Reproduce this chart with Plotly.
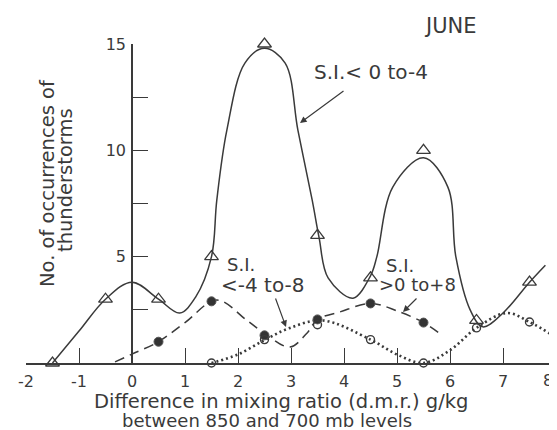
import plotly.graph_objects as go

# ---------------- data ----------------
# S.I. < 0 to -4 (solid line, open triangles)
tri_x = [-1.5, -0.5, 0.5, 1.5, 2.5, 3.5, 4.5, 5.5, 6.5, 7.5]
tri_y = [0.0, 3.0, 3.0, 5.0, 15.0, 6.0, 4.0, 10.0, 2.0, 3.8]
solid_x = [-1.5, -1.0, -0.5, 0.0, 0.5, 0.9, 1.2, 1.5, 1.6, 1.79, 2.13, 2.5, 2.89, 3.13,
           3.4, 3.53, 3.7, 4.17, 4.5, 4.62, 4.92, 5.5, 5.96, 6.11, 6.38, 6.62, 7.0, 7.5, 7.8]
solid_y = [0.0, 1.5, 3.0, 3.8, 3.0, 2.35, 3.1, 5.0, 7.66, 10.95, 14.1, 14.8, 14.1, 10.95,
           7.66, 5.9, 4.0, 3.05, 4.1, 5.0, 8.27, 9.65, 8.27, 5.0, 2.5, 1.7, 2.35, 3.8, 4.6]

# S.I. < -4 to -8 (dashed line, filled circles)
fil_x = [0.5, 1.5, 2.5, 3.5, 4.5, 5.5]
fil_y = [1.0, 2.9, 1.3, 2.05, 2.8, 1.9]
dash_x = [-0.32, 0.0, 0.5, 1.0, 1.6, 2.17, 2.55, 2.98, 3.3, 3.5, 3.92, 4.5, 5.0, 5.5, 5.8]
dash_y = [0.05, 0.42, 1.0, 1.9, 2.96, 2.0, 1.3, 0.75, 1.4, 2.05, 2.4, 2.8, 2.45, 1.9, 1.4]

# S.I. > 0 to +8 (dotted line, open circles)
opn_x = [1.5, 2.5, 3.5, 4.5, 5.5, 6.5, 7.5]
opn_y = [0.0, 1.1, 1.8, 1.1, 0.0, 1.65, 1.93]
dot_x = [1.5, 2.0, 2.5, 2.98, 3.6, 4.5, 5.0, 5.5, 6.0, 6.5, 7.07, 7.5, 8.0]
dot_y = [0.0, 0.4, 1.08, 1.65, 2.0, 1.1, 0.4, 0.0, 0.6, 1.65, 2.35, 1.93, 1.2]

x_ticks = [-2, -1, 0, 1, 2, 3, 4, 5, 6, 7, 8]
x_tick_text = ["-2", "-1", "0", "1", "2", "3", "4", "5", "6", "7", ""]
y_ticks = [2.5, 5, 7.5, 10, 12.5, 15]
y_tick_text = ["", "5", "", "10", "", "15"]

INK = "#3a3a3a"
FONT = "DejaVu Sans"

# the page puts the figure 8px in from the top-left corner of the window
OFF = 8
W, H = 557, 430
ML, MT = 26 - OFF, 44 - OFF
MR = W - (556 - OFF)
MB = H - (363 - OFF)
XR = (-2, 8)
YR = (0, 15)
PW = W - ML - MR
PH = H - MT - MB


def paper(xp, yp):
    """window pixel position -> paper coordinates (for text placement)"""
    return (xp - OFF - ML) / PW, (H - MB - (yp - OFF)) / PH


fig = go.Figure()

fig.add_trace(go.Scatter(x=solid_x, y=solid_y, mode="lines",
                         line=dict(color=INK, width=1.5, shape="spline", smoothing=1.0),
                         cliponaxis=False, hoverinfo="skip", showlegend=False))
fig.add_trace(go.Scatter(x=dash_x, y=dash_y, mode="lines",
                         line=dict(color=INK, width=1.5, shape="spline", smoothing=1.0,
                                   dash="10px,6px"),
                         cliponaxis=False, hoverinfo="skip", showlegend=False))
fig.add_trace(go.Scatter(x=dot_x, y=dot_y, mode="lines",
                         line=dict(color=INK, width=2.6, shape="spline", smoothing=1.0,
                                   dash="2px,3px"),
                         cliponaxis=False, hoverinfo="skip", showlegend=False))

fig.add_trace(go.Scatter(x=tri_x, y=tri_y, mode="markers",
                         marker=dict(symbol="triangle-up-open", size=12, color=INK,
                                     line=dict(width=1.3, color=INK)),
                         cliponaxis=False, showlegend=False))
fig.add_trace(go.Scatter(x=fil_x, y=fil_y, mode="markers",
                         marker=dict(symbol="circle", size=9, color="#333333",
                                     line=dict(width=1, color="#555555")),
                         cliponaxis=False, showlegend=False))
fig.add_trace(go.Scatter(x=opn_x, y=opn_y, mode="markers",
                         marker=dict(symbol="circle-open", size=8, color=INK,
                                     line=dict(width=1.4, color=INK)),
                         cliponaxis=False, showlegend=False))

ann = []


def text(xp, yp, s, size, angle=0):
    x, y = paper(xp, yp)
    ann.append(dict(x=x, y=y, xref="paper", yref="paper", text=s, showarrow=False,
                    textangle=angle, font=dict(family=FONT, size=size, color=INK),
                    xanchor="center", yanchor="middle"))


def arrow(x0, y0, x1, y1):
    hx, hy = paper(x1, y1)
    ann.append(dict(x=hx, y=hy, xref="paper", yref="paper", text="", showarrow=True,
                    ax=x0 - x1, ay=y0 - y1, arrowhead=2, arrowsize=1.1,
                    arrowwidth=1.2, arrowcolor=INK, standoff=0))


text(450, 26, "JUNE", 21)
text(371, 72, "S.I.< 0 to-4", 20)
arrow(345, 90, 300, 123)
text(241, 264, "S.I.", 18)
text(262, 285, "<-4 to-8", 20)
arrow(275, 297, 286, 327)
text(400, 265, "S.I.", 18)
text(417, 284, ">0 to+8", 18)
arrow(418, 297, 403, 312)

# last x tick label sits on the image edge
text(548, 380, "8", 16)

text(281, 401, "Difference in mixing ratio (d.m.r.) g/kg", 19.5)
text(267, 420.5, "between 850 and 700 mb levels", 18)
text(47, 183, "No. of occurrences of", 19.5, -90)
text(65, 180, "thunderstorms", 19.5, -90)

fig.update_layout(
    width=W, height=H,
    margin=dict(l=ML, r=MR, t=MT, b=MB, pad=0, autoexpand=False),
    paper_bgcolor="white", plot_bgcolor="white",
    showlegend=False,
    annotations=ann,
    font=dict(family=FONT, color=INK),
    xaxis=dict(range=list(XR), showgrid=False, zeroline=False, automargin=False,
               showline=True, linecolor=INK, linewidth=1.6,
               ticks="inside", ticklen=15, tickwidth=1.3, tickcolor=INK,
               tickvals=x_ticks, ticktext=x_tick_text, ticklabelstandoff=3,
               tickfont=dict(family=FONT, size=16, color=INK)),
    yaxis=dict(range=list(YR), showgrid=False, zeroline=False, automargin=False,
               anchor="free", position=0.2, side="left",
               showline=True, linecolor=INK, linewidth=1.6,
               ticks="inside", ticklen=15, tickwidth=1.3, tickcolor=INK,
               tickvals=y_ticks, ticktext=y_tick_text, ticklabelstandoff=2,
               tickfont=dict(family=FONT, size=16, color=INK)),
)

fig.write_html("out.html")
